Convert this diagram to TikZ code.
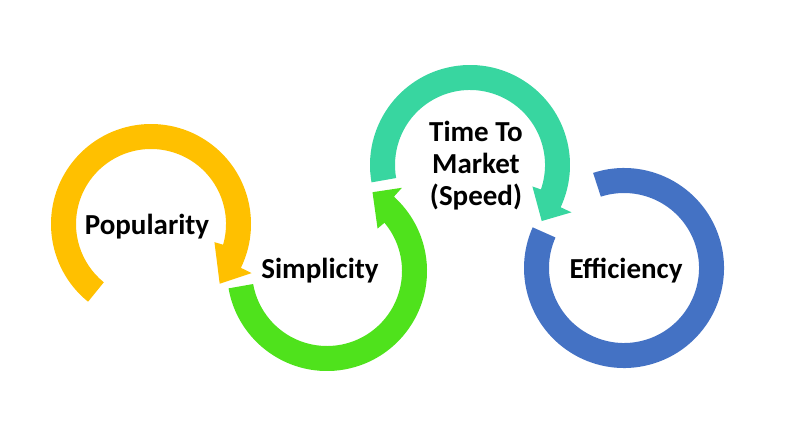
\documentclass[tikz,border=0pt]{standalone}
\usepackage{fontspec}
\setmainfont{Carlito}
\usetikzlibrary{calc}
\definecolor{ringgold}{HTML}{FFC000}
\definecolor{ringgreen}{HTML}{4FE21C}
\definecolor{ringteal}{HTML}{38D6A0}
\definecolor{ringblue}{HTML}{4472C4}
\tikzset{
  ringlabel/.style={
    font=\bfseries\fontsize{14.5}{16}\selectfont,
    text=black,
    inner sep=0pt,
    align=center
  }
}
% circular arrow band: colour, centre, tail angle, inner barb, outer barb, tip
\newcommand{\ringarrow}[6]{%
  \fill[#1] ($(#2)+(#3:100)$) arc[start angle=#3, end angle=#5, radius=100]
    -- ($(#2)+(#5:112)$) -- ($(#2)+(#6:91)$) -- ($(#2)+(#4:66)$)
    -- ($(#2)+(#4:75)$) arc[start angle=#4, end angle=#3, radius=75] -- cycle;}

\begin{document}
\begin{tikzpicture}[x=0.5pt,y=0.5pt]
\useasboundingbox (0,0) rectangle (785,429);
\coordinate (popc) at (151,205);
\coordinate (simc) at (327,158);
\coordinate (ttmc) at (470,264);
\coordinate (effc) at (624,161);
\ringarrow{ringgold}{popc}{231}{-16}{-26}{-41}
\ringarrow{ringgreen}{simc}{190}{400}{408}{420}
\ringarrow{ringteal}{ttmc}{190}{-19}{-25}{-38}
% efficiency ring, no head
\fill[ringblue] ($(effc)+(108:100)$) arc[start angle=108, end angle=-204, radius=100]
  -- ($(effc)+(-204:75)$) arc[start angle=-204, end angle=108, radius=75] -- cycle;
\node[ringlabel, anchor=base] (popularity) at (147,195) {Popularity};
\node[ringlabel, anchor=base] (simplicity) at (320,151) {Simplicity};
\node[ringlabel] (speed) at (476,263) {Time To\\Market\\(Speed)};
\node[ringlabel, anchor=base] (efficiency) at (626,151) {Efficiency};
\end{tikzpicture}
\end{document}
